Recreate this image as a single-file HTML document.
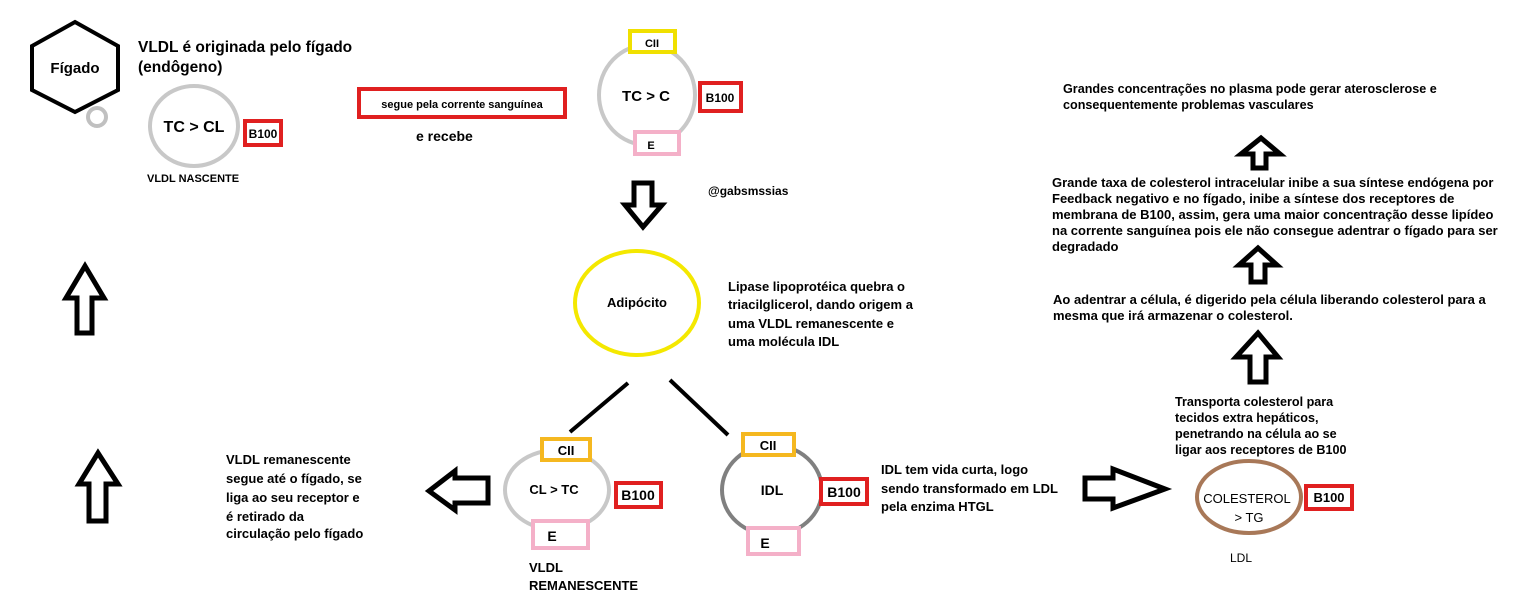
<!DOCTYPE html>
<html><head><meta charset="utf-8"><style>
html,body{margin:0;padding:0;background:#fff}
svg text{font-family:"Liberation Sans",sans-serif;font-weight:bold;fill:#000}
</style></head><body>
<svg width="1532" height="609" xmlns="http://www.w3.org/2000/svg">
<g fill="none" stroke-width="4">
<polygon points="75,22 118,46 118,90 75,112 32,90 32,46" stroke="#000"/>
<circle cx="97" cy="117" r="9" stroke="#c0c0c0"/>
<ellipse cx="194" cy="126" rx="44" ry="40" stroke="#c8c8c8"/>
<ellipse cx="647" cy="95" rx="48" ry="50" stroke="#c8c8c8"/>
<ellipse cx="637" cy="303" rx="62" ry="52" stroke="#f4e800"/>
<line x1="628" y1="383" x2="570" y2="432" stroke="#000"/>
<line x1="670" y1="380" x2="728" y2="435" stroke="#000"/>
<ellipse cx="557" cy="490" rx="52" ry="40" stroke="#c8c8c8"/>
<ellipse cx="772" cy="490" rx="50" ry="45" stroke="#808080"/>
<ellipse cx="1249" cy="497" rx="52" ry="36" stroke="#a87858"/>
</g>
<g fill="#fff" stroke-width="4">
<rect x="245" y="121" width="36" height="24" stroke="#e02020"/>
<rect x="359" y="89" width="206" height="28" stroke="#e02020"/>
<rect x="630" y="31" width="45" height="21" stroke="#f0e000"/>
<rect x="700" y="83" width="41" height="28" stroke="#e02020"/>
<rect x="635" y="132" width="44" height="22" stroke="#f4b0c8"/>
<rect x="542" y="439" width="48" height="21" stroke="#f5b820"/>
<rect x="616" y="483" width="45" height="24" stroke="#e02020"/>
<rect x="533" y="521" width="55" height="27" stroke="#f4b0c8"/>
<rect x="743" y="434" width="51" height="21" stroke="#f5b820"/>
<rect x="821" y="479" width="46" height="25" stroke="#e02020"/>
<rect x="748" y="528" width="51" height="26" stroke="#f4b0c8"/>
<rect x="1306" y="486" width="46" height="23" stroke="#e02020"/>
</g>
<g fill="#fff" stroke="#000" stroke-width="5" stroke-linejoin="miter">
<polygon points="634,183 652,183 652,205 662,205 643,227 625,205 634,205"/>
<polygon points="488,478 488,503 455,503 455,510 429,491 455,471 455,478"/>
<polygon points="1085,478 1113,478 1113,469 1165,489 1113,508 1113,499 1085,499"/>
<polygon points="1250,382 1266,382 1266,357 1278,357 1258,333 1236,357 1250,357"/>
<polygon points="1251,282 1265,282 1265,265 1277,265 1258,248 1239,265 1251,265"/>
<polygon points="1253,168 1266,168 1266,154 1280,154 1261,138 1241,154 1253,154"/>
<polygon points="77,333 92,333 92,298 104,298 85,266 66,298 77,298"/>
<polygon points="89,521 106,521 106,484 118,484 98,453 79,484 89,484"/>
</g>
<text x="75" y="73" font-size="15" text-anchor="middle">Fígado</text>
<text x="138" y="52" font-size="15.5">VLDL é originada pelo fígado</text>
<text x="138" y="72" font-size="15.5">(endôgeno)</text>
<text x="194" y="132" font-size="16" text-anchor="middle">TC &gt; CL</text>
<text x="263" y="138" font-size="12" text-anchor="middle">B100</text>
<text x="147" y="182" font-size="11">VLDL NASCENTE</text>
<text x="462" y="108" font-size="11" text-anchor="middle">segue pela corrente sanguínea</text>
<text x="416" y="141" font-size="14">e recebe</text>
<text x="652" y="47" font-size="11" text-anchor="middle">CII</text>
<text x="646" y="101" font-size="15" text-anchor="middle">TC &gt; C</text>
<text x="720" y="102" font-size="12" text-anchor="middle">B100</text>
<text x="651" y="149" font-size="11" text-anchor="middle">E</text>
<text x="708" y="195" font-size="12">@gabsmssias</text>
<text x="637" y="307" font-size="13" text-anchor="middle">Adipócito</text>
<g font-size="13">
<text x="728" y="291">Lipase lipoprotéica quebra o</text>
<text x="728" y="309">triacilglicerol, dando origem a</text>
<text x="728" y="328">uma VLDL remanescente e</text>
<text x="728" y="346">uma molécula IDL</text>
</g>
<text x="566" y="455" font-size="13" text-anchor="middle">CII</text>
<text x="554" y="494" font-size="13" text-anchor="middle">CL &gt; TC</text>
<text x="638" y="500" font-size="14" text-anchor="middle">B100</text>
<text x="552" y="541" font-size="14" text-anchor="middle">E</text>
<text x="529" y="572" font-size="13">VLDL</text>
<text x="529" y="590" font-size="13">REMANESCENTE</text>
<g font-size="13">
<text x="226" y="464">VLDL remanescente</text>
<text x="226" y="483">segue até o fígado, se</text>
<text x="226" y="502">liga ao seu receptor e</text>
<text x="226" y="521">é  retirado da</text>
<text x="226" y="538">circulação pelo fígado</text>
</g>
<text x="768" y="450" font-size="13" text-anchor="middle">CII</text>
<text x="772" y="495" font-size="14" text-anchor="middle">IDL</text>
<text x="844" y="497" font-size="14" text-anchor="middle">B100</text>
<text x="765" y="548" font-size="14" text-anchor="middle">E</text>
<g font-size="13">
<text x="881" y="474">IDL tem vida curta, logo</text>
<text x="881" y="493">sendo transformado em LDL</text>
<text x="881" y="511">pela enzima HTGL</text>
</g>
<text x="1247" y="503" font-size="13" text-anchor="middle" style="font-weight:normal">COLESTEROL</text>
<text x="1249" y="522" font-size="13" text-anchor="middle" style="font-weight:normal">&gt; TG</text>
<text x="1329" y="502" font-size="13" text-anchor="middle">B100</text>
<text x="1230" y="562" font-size="12" style="font-weight:normal">LDL</text>
<g font-size="12.6">
<text x="1175" y="406">Transporta colesterol para</text>
<text x="1175" y="422">tecidos extra hepáticos,</text>
<text x="1175" y="438">penetrando na célula ao se</text>
<text x="1175" y="454">ligar aos receptores de B100</text>
<text x="1063" y="93">Grandes concentrações no plasma pode gerar aterosclerose e</text>
<text x="1063" y="109">consequentemente problemas vasculares</text>
</g>
<g font-size="13">
<text x="1053" y="304">Ao adentrar a célula, é digerido pela célula liberando colesterol para a</text>
<text x="1053" y="320">mesma que irá armazenar o colesterol.</text>
<text x="1052" y="187">Grande taxa de colesterol intracelular inibe a sua síntese endógena por</text>
<text x="1052" y="203">Feedback negativo e no fígado, inibe a síntese dos receptores de</text>
<text x="1052" y="219">membrana de B100, assim, gera uma maior concentração desse lipídeo</text>
<text x="1052" y="235">na corrente sanguínea pois ele não consegue adentrar o fígado para ser</text>
<text x="1052" y="251">degradado</text>
</g>
</svg>
</body></html>
